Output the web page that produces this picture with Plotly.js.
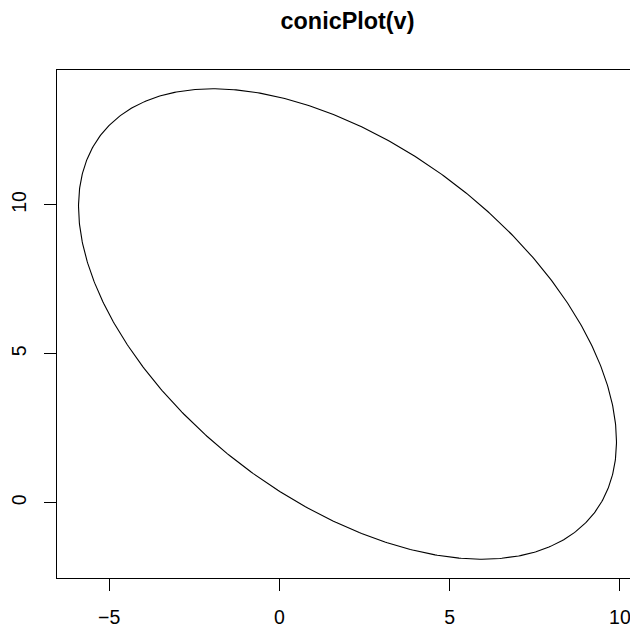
<!DOCTYPE html>
<html>
<head>
<meta charset="utf-8">
<script src="https://cdn.plot.ly/plotly-3.0.1.min.js"></script>
<style>
html, body { margin: 0; padding: 0; overflow: hidden; background: #fff; }
#chart { width: 660px; height: 627px; }
</style>
</head>
<body>
<div id="chart"></div>
<script>
// Conic coefficients v = (A, B, C, D, E, F) for A x^2 + B xy + C y^2 + D x + E y + F = 0
var conicCoef = [1, 1, 1, -10, -14, 5.2];
var xTicks = [-5, 0, 5, 10];
var yTicks = [0, 5, 10];
var titleText = "conicPlot(v)";

// Trace the conic through its own equation
var A = conicCoef[0], B = conicCoef[1], C = conicCoef[2], D = conicCoef[3], E = conicCoef[4], F = conicCoef[5];
var det = A * C - B * B / 4;
var inv = [[C / det, -B / 2 / det], [-B / 2 / det, A / det]];
var cx = -0.5 * (inv[0][0] * D + inv[0][1] * E);
var cy = -0.5 * (inv[1][0] * D + inv[1][1] * E);
var R = A * cx * cx + B * cx * cy + C * cy * cy - F;
var S11 = R * inv[0][0], S12 = R * inv[0][1], S22 = R * inv[1][1];
var L11 = Math.sqrt(S11), L21 = S12 / L11, L22 = Math.sqrt(S22 - L21 * L21);
var xs = [], ys = [];
var N = 720;
for (var i = 0; i <= N; i++) {
  var t = 2 * Math.PI * i / N;
  var u = Math.cos(t), w = Math.sin(t);
  xs.push(cx + L11 * u);
  ys.push(cy + L21 * u + L22 * w);
}
var xmin = Math.min.apply(null, xs), xmax = Math.max.apply(null, xs);
var ymin = Math.min.apply(null, ys), ymax = Math.max.apply(null, ys);
var xpad = (xmax - xmin) * 0.04, ypad = (ymax - ymin) * 0.04;

var font = "Liberation Sans, Arial, sans-serif";
var trace = {
  x: xs, y: ys, type: "scatter", mode: "lines",
  line: { color: "#000", width: 1.1 }, hoverinfo: "skip"
};
var axisCommon = {
  showgrid: false, zeroline: false, showline: true, mirror: true,
  linecolor: "#000", linewidth: 1.2,
  ticks: "outside", ticklen: 12, tickwidth: 1, tickcolor: "#000",
  tickfont: { family: font, size: 19.5, color: "#000" },
  tickmode: "array"
};
var layout = {
  width: 660, height: 627,
  margin: { l: 57, r: 22, t: 70, b: 49 },
  paper_bgcolor: "#fff", plot_bgcolor: "#fff",
  showlegend: false,
  title: { text: "<b>" + titleText + "</b>", font: { family: font, size: 23.4, color: "#000" },
           x: 0.5, xref: "paper", y: 1 - 20.5 / 627, yanchor: "middle" },
  xaxis: Object.assign({}, axisCommon, {
    range: [xmin - xpad, xmax + xpad], tickvals: xTicks,
    ticktext: xTicks.map(function (v) { return v < 0 ? "\u2212" + Math.abs(v) : String(v); }),
    ticklabelstandoff: 9
  }),
  yaxis: Object.assign({}, axisCommon, {
    range: [ymin - ypad, ymax + ypad], tickvals: yTicks,
    ticktext: yTicks.map(String), tickangle: -90,
    ticklabelstandoff: 10
  })
};
Plotly.newPlot("chart", [trace], layout, { displayModeBar: false, staticPlot: true });
</script>
</body>
</html>
